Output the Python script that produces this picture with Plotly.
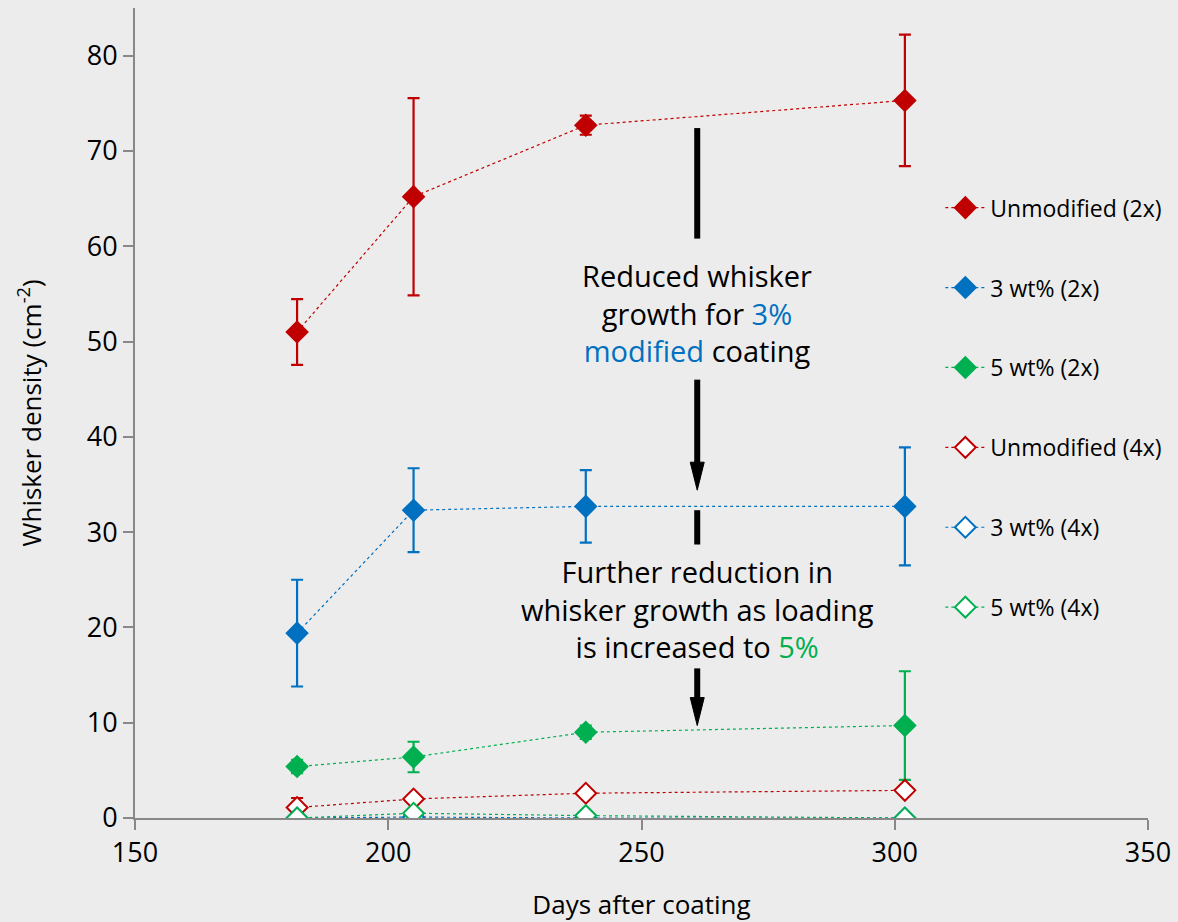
import plotly.graph_objects as go

days = [182, 205, 239, 302]

names = ["Unmodified (2x)", "3 wt% (2x)", "5 wt% (2x)",
         "Unmodified (4x)", "3 wt% (4x)", "5 wt% (4x)"]

unmod_2x = [51.0, 65.2, 72.7, 75.3]
unmod_2x_err = [3.45, 10.35, 1.0, 6.9]
wt3_2x = [19.4, 32.3, 32.7, 32.7]
wt3_2x_err = [5.6, 4.4, 3.8, 6.2]
wt5_2x = [5.4, 6.4, 9.0, 9.7]
wt5_2x_err = [0.7, 1.6, 0.7, 5.7]
unmod_4x = [1.1, 2.0, 2.6, 2.9]
unmod_4x_err = [1.0, 0.0, 0.0, 0.0]
wt3_4x = [0.0, 0.1, 0.0, 0.0]
wt3_4x_err = [0.0, 0.0, 0.0, 0.0]
wt5_4x = [0.0, 0.5, 0.25, 0.0]
wt5_4x_err = [0.0, 0.0, 0.0, 0.0]

RED = "#C00000"
BLUE = "#0070C0"
GREEN = "#00B050"
BG = "#ECECEC"
FONT = "Open Sans"

series = [
    (unmod_2x, unmod_2x_err, RED, True),
    (wt3_2x, wt3_2x_err, BLUE, True),
    (wt5_2x, wt5_2x_err, GREEN, True),
    (unmod_4x, unmod_4x_err, RED, False),
    (wt3_4x, wt3_4x_err, BLUE, False),
    (wt5_4x, wt5_4x_err, GREEN, False),
]

fig = go.Figure()
for i, (vals, err, col, filled) in enumerate(series):
    fig.add_trace(go.Scatter(
        x=days, y=vals, name=names[i], legendgroup=f"g{i}",
        mode="lines+markers",
        line=dict(color=col, width=1.2, dash="dot"),
        marker=dict(symbol="diamond", size=16,
                    color=col if filled else "white",
                    line=dict(color=col, width=2)),
        error_y=dict(type="data", array=err, visible=True,
                     color=col, thickness=2.2, width=6),
    ))

# text annotations
fig.add_annotation(
    x=261, y=53.0, xref="x", yref="y", showarrow=False,
    text="Reduced whisker<br>growth for <span style='color:#0070C0'>3%</span><br>"
         "<span style='color:#0070C0'>modified</span> coating",
    font=dict(family=FONT, size=29, color="black"), align="center")
fig.add_annotation(
    x=261, y=21.9, xref="x", yref="y", showarrow=False,
    text="Further reduction in<br>whisker growth as loading<br>"
         "is increased to <span style='color:#00B050'>5%</span>",
    font=dict(family=FONT, size=29, color="black"), align="center",
    bgcolor=BG)

# arrow shafts
for (y0, y1) in [(72.4, 60.8), (46.0, 35.5), (32.3, 28.7), (15.7, 11.0)]:
    fig.add_shape(type="line", x0=261, x1=261, y0=y0, y1=y1,
                  xref="x", yref="y", line=dict(color="black", width=6))
# arrow heads (pixel-sized, anchored at the tip)
for tip in [34.4, 9.7]:
    fig.add_shape(type="path", xref="x", yref="y",
                  xsizemode="pixel", ysizemode="pixel",
                  xanchor=261, yanchor=tip,
                  path="M-7,28 L7,28 L0,0 Z",
                  fillcolor="black", line=dict(color="black", width=1))

axis_common = dict(showline=True, linecolor="#888888", linewidth=2,
                   ticks="outside", ticklen=10, tickcolor="#888888",
                   tickwidth=2, showgrid=False, zeroline=False,
                   automargin=False,
                   tickfont=dict(family=FONT, size=27, color="black"))

fig.update_xaxes(range=[150, 350], dtick=50, tick0=150,
                 title=dict(text="Days after coating",
                            font=dict(family=FONT, size=26, color="black"),
                            standoff=27),
                 **axis_common)
fig.update_yaxes(range=[0, 85], dtick=10,
                 title=dict(text="Whisker density (cm<sup>-2</sup>)",
                            font=dict(family=FONT, size=26, color="black"),
                            standoff=38),
                 **axis_common)

fig.update_layout(
    width=1178, height=922,
    margin=dict(l=135, r=30, t=8, b=104),
    paper_bgcolor=BG, plot_bgcolor=BG,
    font=dict(family=FONT, color="black"),
    legend=dict(x=0.795, y=0.78, xanchor="left", yanchor="top",
                bgcolor="rgba(0,0,0,0)", tracegroupgap=47,
                font=dict(family=FONT, size=23, color="black"),
                itemwidth=40),
    showlegend=True,
)

fig.write_html("out.html")
